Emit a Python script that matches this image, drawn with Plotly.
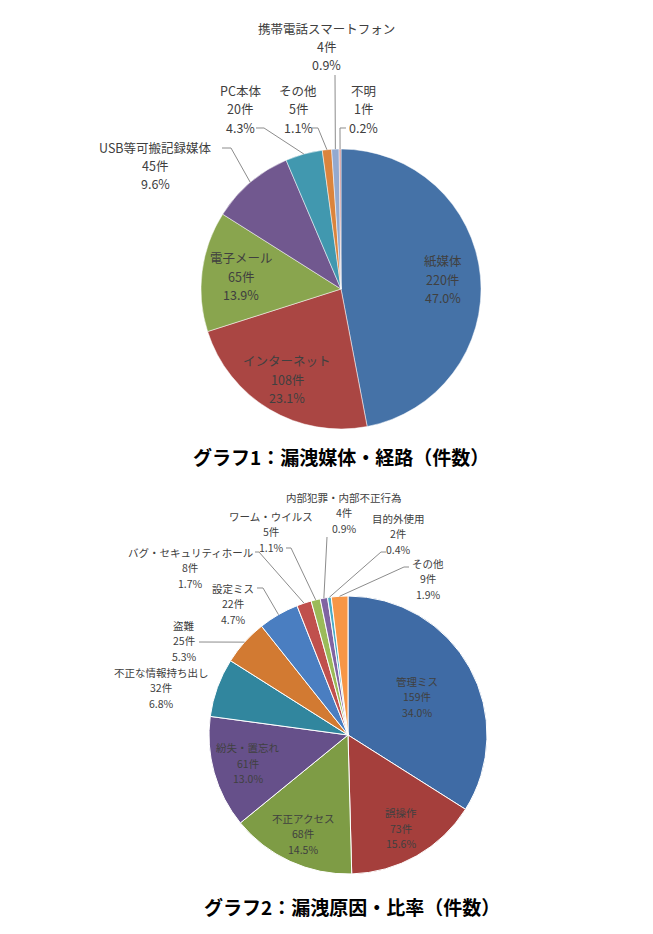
import math
import plotly.graph_objects as go

W, H = 653, 934

# ---------------- data ----------------
media_labels = ["紙媒体", "インターネット", "電子メール", "USB等可搬記録媒体", "PC本体", "その他", "携帯電話スマートフォン", "不明"]
media_values = [220, 108, 65, 45, 20, 5, 4, 1]

cause_labels = ["管理ミス", "誤操作", "不正アクセス", "紛失・置忘れ", "不正な情報持ち出し", "盗難", "設定ミス",
                "バグ・セキュリティホール", "ワーム・ウイルス", "内部犯罪・内部不正行為", "目的外使用", "その他"]
cause_values = [159, 73, 68, 61, 32, 25, 22, 8, 5, 4, 2, 9]

title1 = "グラフ1：漏洩媒体・経路（件数）"
title2 = "グラフ2：漏洩原因・比率（件数）"

# ---------------- styles / layout ----------------
media_colors = ["#4572A7", "#AA4643", "#89A54E", "#71588F", "#4198AF", "#DB843D", "#93A9CF", "#D19392"]
cause_colors = ["#3F6BA5", "#A53F3C", "#7E9C45", "#66508A", "#31869E", "#D27A32", "#4A7EC1",
                "#C0504D", "#9BBB59", "#8064A2", "#4BACC6", "#F79646"]

FONT = "Noto Sans CJK JP"
TXT = "#404040"

# pie geometry in pixels: center and radius
P1 = dict(cx=341, cy=289, r=140)
P2 = dict(cx=348, cy=735, r=139)

def px(x):
    return x / W

def py(y):
    return 1 - y / H

def domain(p):
    return dict(x=[px(p["cx"] - p["r"]), px(p["cx"] + p["r"])],
                y=[py(p["cy"] + p["r"]), py(p["cy"] - p["r"])])

def mid_angles(values):
    tot = sum(values)
    out, c = [], 0
    for v in values:
        out.append((c + v / 2) / tot * 2 * math.pi)
        c += v
    return out

def point(p, ang, frac):
    return (p["cx"] + math.sin(ang) * p["r"] * frac, p["cy"] - math.cos(ang) * p["r"] * frac)

def lines_for(labels, values, i):
    tot = sum(values)
    return [labels[i], f"{values[i]}件", f"{values[i] / tot * 100:.1f}%"]

annotations = []
shapes = []

def add_block(lines, cx, cy_first, spacing, size):
    for k, t in enumerate(lines):
        annotations.append(dict(
            x=px(cx), y=py(cy_first + k * spacing), xref="paper", yref="paper",
            text=t, showarrow=False, xanchor="center", yanchor="middle",
            font=dict(family=FONT, size=size, color=TXT)))

def add_leader(p, ang, pts):
    ex, ey = point(p, ang, 1.0)
    allp = list(pts) + [(ex, ey)]
    path = "M " + " L ".join(f"{px(x):.5f},{py(y):.5f}" for x, y in allp)
    shapes.append(dict(type="path", path=path, xref="paper", yref="paper",
                       line=dict(color="#8C8C8C", width=1)))

fig = go.Figure()

fig.add_trace(go.Pie(
    labels=media_labels, values=media_values, sort=False, direction="clockwise", rotation=0,
    marker=dict(colors=media_colors, line=dict(color="white", width=0.5)),
    textinfo="none", hoverinfo="label+value+percent", domain=domain(P1), showlegend=False))

fig.add_trace(go.Pie(
    labels=cause_labels, values=cause_values, sort=False, direction="clockwise", rotation=0,
    marker=dict(colors=cause_colors, line=dict(color="white", width=1)),
    textinfo="none", hoverinfo="label+value+percent", domain=domain(P2), showlegend=False))

# ---------------- chart 1 labels ----------------
a1 = mid_angles(media_values)
SP1, FS1 = 18.5, 12.5
for i, frac in [(0, 0.73), (1, 0.75), (2, 0.72)]:
    x, y = point(P1, a1[i], frac)
    add_block(lines_for(media_labels, media_values, i), x, y - SP1, SP1, FS1)

out1 = {  # index: (center x, first line y)
    6: (327, 28),
    4: (240, 90),
    5: (298, 90),
    7: (363, 90),
    3: (155, 148),
}
for i, (cx, cy) in out1.items():
    add_block(lines_for(media_labels, media_values, i), cx, cy, SP1 if i != 3 else 17.5, FS1)

lead1 = {
    6: [(335, 75)],
    4: [(256, 128), (264, 128)],
    5: [(312, 128), (318, 128)],
    7: [(346, 128), (340, 128)],
    3: [(222, 148), (231, 148)],
}
for i, pts in lead1.items():
    add_leader(P1, a1[i], pts)

# ---------------- chart 2 labels ----------------
a2 = mid_angles(cause_values)
SP2, FS2 = 15.5, 10.5
for i, frac in [(0, 0.57), (1, 0.77), (2, 0.78), (3, 0.75)]:
    x, y = point(P2, a2[i], frac)
    add_block(lines_for(cause_labels, cause_values, i), x, y - SP2, SP2, FS2)

out2 = {
    9: (344, 497),
    8: (271, 516),
    10: (398, 518),
    11: (428, 563),
    7: (190, 552),
    6: (233, 588),
    5: (184, 625),
    4: (161, 672),
}
for i, (cx, cy) in out2.items():
    add_block(lines_for(cause_labels, cause_values, i), cx, cy, SP2, FS2)

lead2 = {
    9: [(327, 537)],
    8: [(286, 548), (291, 548)],
    10: [(386, 552), (381, 552)],
    11: [(409, 567), (404, 567)],
    7: [(255, 552), (259, 552)],
    6: [(257, 588), (263, 588)],
    5: [(199, 642)],
}
for i, pts in lead2.items():
    add_leader(P2, a2[i], pts)

# ---------------- titles ----------------
for t, cx, cy in [(title1, 341, 457), (title2, 352, 906)]:
    annotations.append(dict(x=px(cx), y=py(cy), xref="paper", yref="paper", text=f"<b>{t}</b>",
                            showarrow=False, xanchor="center", yanchor="middle",
                            font=dict(family=FONT, size=19, color="#000000")))

fig.update_layout(
    width=W, height=H, margin=dict(l=0, r=0, t=0, b=0),
    paper_bgcolor="white", plot_bgcolor="white",
    annotations=annotations, shapes=shapes, showlegend=False)

fig.write_html("out.html")
